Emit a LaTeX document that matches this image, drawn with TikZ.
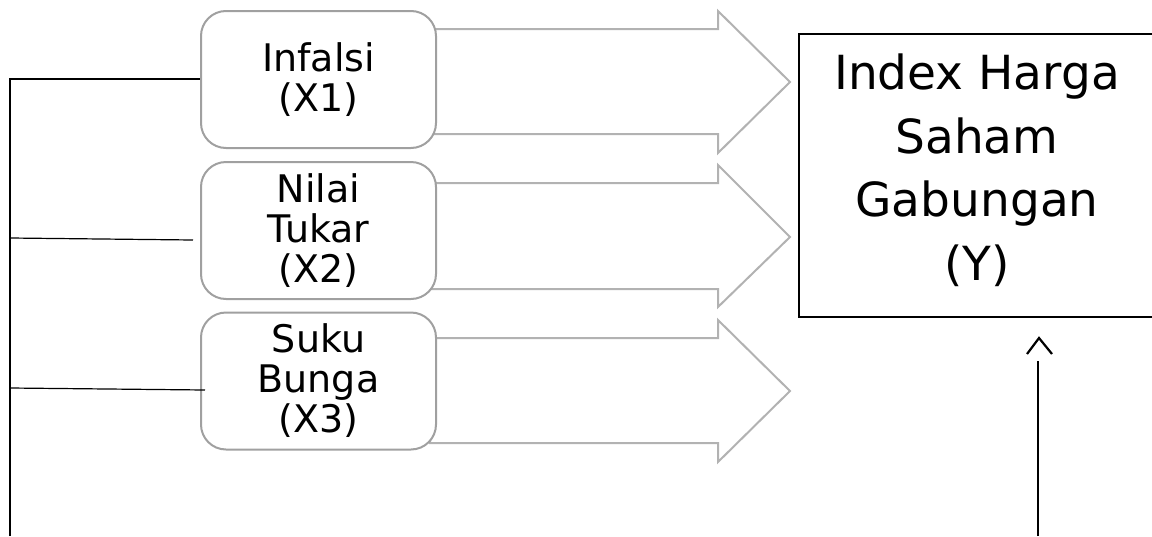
\documentclass[tikz,border=0pt]{standalone}
\usepackage{fontspec}
\setmainfont{DejaVu Sans}
\usetikzlibrary{calc}
\definecolor{boxgray}{HTML}{A0A0A0}
\definecolor{arrgray}{HTML}{B2B2B2}
\tikzset{
  xbox/.style={draw=boxgray, line width=2pt, rounded corners=25pt, fill=white,
    minimum width=235pt, minimum height=137pt, align=center, inner sep=0pt,
    font=\fontsize{38}{40}\selectfont},
  ybox/.style={draw=black, line width=2.5pt, fill=white,
    minimum width=356pt, minimum height=283pt, align=center, inner sep=0pt,
    font=\fontsize{47}{63.5}\selectfont},
  fatarrow/.style={draw=arrgray, line width=2pt, fill=white, line join=miter},
  thin/.style={draw=black, line width=1.2pt},
  chev/.style={draw=black, line width=2.2pt, line join=miter}
}
\begin{document}
\begin{tikzpicture}[x=1pt,y=-1pt]
\useasboundingbox (0,0) rectangle (1152,536);
% fat arrows (behind the boxes)
\draw[fatarrow] (430,29) -- (718,29) -- (718,11) -- (790,82) -- (718,153) -- (718,134) -- (430,134) -- cycle;
\draw[fatarrow] (430,183) -- (718,183) -- (718,165) -- (790,237) -- (718,307) -- (718,289) -- (430,289) -- cycle;
\draw[fatarrow] (430,338) -- (718,338) -- (718,320) -- (790,391) -- (718,462) -- (718,443) -- (430,443) -- cycle;
% boxes
\node[xbox] (x1) at (318.5,79.5) {Infalsi\\(X1)};
\node[xbox] (x2) at (318.5,230.5) {Nilai\\Tukar\\(X2)};
\node[xbox] (x3) at (318.5,381) {Suku\\Bunga\\(X3)};
\node[ybox] (y) at (977,175.5) {};
\node (ytext) at (977,170) [font=\fontsize{47}{63.5}\selectfont, align=center, inner sep=0pt] {Index Harga\\Saham\\Gabungan\\(Y)};
% thin connectors
\coordinate (t1) at (10,79);
\coordinate (tb) at (10,536);
\coordinate (t2) at (10,238);
\coordinate (e2) at (193,240);
\coordinate (t3) at (10,388);
\coordinate (e3) at (205,390);
\draw[thin] (tb) -- (t1) -- (x1.west |- t1);
\draw[thin] (t2) -- (e2);
\draw[thin] (t3) -- (e3);
% bottom arrow to Y
\coordinate (ab) at (1038,536);
\coordinate (at) at (1038,361);
\coordinate (tip) at (1039,338);
\draw[thin] (ab) -- (at);
\draw[chev] ($(tip)+(-12,16)$) -- (tip) -- ($(tip)+(13,16)$);
\end{tikzpicture}
\end{document}
